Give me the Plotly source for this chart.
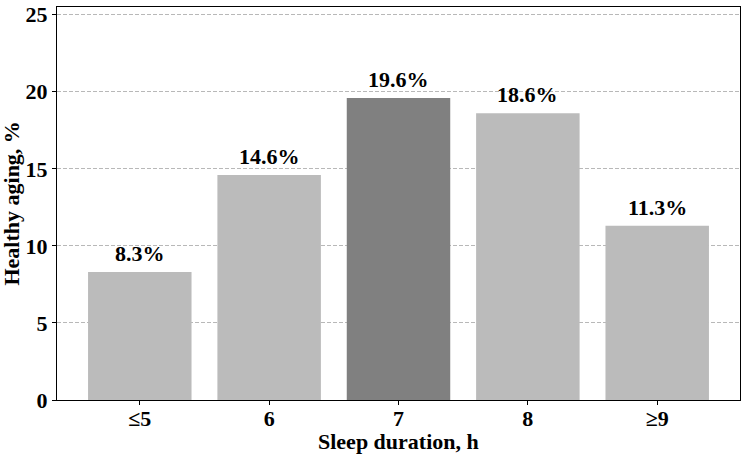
import plotly.graph_objects as go

categories = ["≤5", "6", "7", "8", "≥9"]
values = [8.3, 14.6, 19.6, 18.6, 11.3]
labels = ["8.3%", "14.6%", "19.6%", "18.6%", "11.3%"]
colors = ["#bbbbbb", "#bbbbbb", "#808080", "#bbbbbb", "#bbbbbb"]

font_family = "Liberation Serif"
fs = 22
x_idx = list(range(len(categories)))

fig = go.Figure()
fig.add_trace(go.Bar(
    x=x_idx, y=values, width=0.8,
    marker=dict(color=colors, line=dict(width=0)),
    showlegend=False, hoverinfo="skip",
))
for xi, v, t in zip(x_idx, values, labels):
    fig.add_annotation(x=xi, y=v, text="<b>%s</b>" % t, showarrow=False,
                       yanchor="bottom", yshift=4,
                       font=dict(family=font_family, size=fs, color="black"))

# axis titles
fig.add_annotation(xref="paper", yref="paper", x=0.5, y=-0.106,
                   text="<b>Sleep duration, h</b>", showarrow=False,
                   xanchor="center", yanchor="middle",
                   font=dict(family=font_family, size=fs, color="black"))
fig.add_annotation(xref="paper", yref="paper", x=-0.0673, y=0.5,
                   text="<b>Healthy aging, %</b>", showarrow=False, textangle=-90,
                   xanchor="center", yanchor="middle",
                   font=dict(family=font_family, size=fs, color="black"))

fig.update_layout(
    width=744, height=456,
    margin=dict(l=57, r=4, t=2, b=56),
    plot_bgcolor="white", paper_bgcolor="white",
    font=dict(family=font_family, size=fs, color="black"),
)
fig.update_xaxes(
    range=[-0.64, 4.64], tickmode="array", tickvals=x_idx,
    ticktext=["<b>%s</b>" % c for c in categories],
    showline=True, linecolor="black", linewidth=1.3, mirror=True,
    ticks="outside", ticklen=4, tickcolor="black", showgrid=False,
    ticklabelstandoff=-6,
    zeroline=False,
)
fig.update_yaxes(
    range=[0, 25.5], tickvals=[0, 5, 10, 15, 20, 25],
    ticktext=["<b>%d</b>" % v for v in [0, 5, 10, 15, 20, 25]],
    showline=True, linecolor="black", linewidth=1.3, mirror=True,
    ticks="outside", ticklen=4, tickcolor="black", ticklabeloverflow="allow",
    showgrid=True, gridcolor="#b8b8b8", griddash="4px,2px", gridwidth=1,
    zeroline=False, layer="below traces",
)

fig.write_html("out.html")
